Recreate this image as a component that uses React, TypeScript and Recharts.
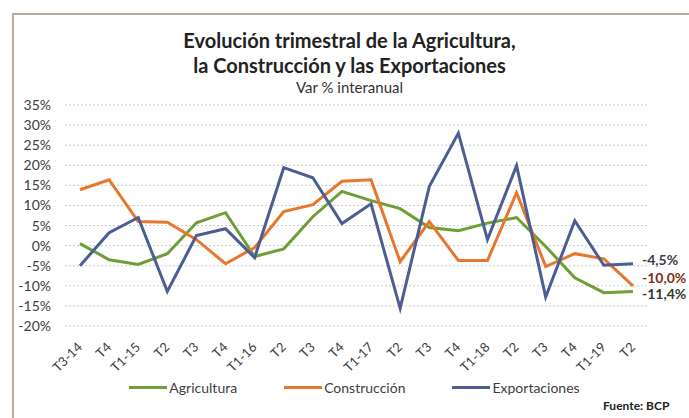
import { LineChart, Line, XAxis, YAxis, CartesianGrid, LabelList } from 'recharts';

const categories = ['T3-14', 'T4', 'T1-15', 'T2', 'T3', 'T4', 'T1-16', 'T2', 'T3', 'T4', 'T1-17', 'T2', 'T3', 'T4', 'T1-18', 'T2', 'T3', 'T4', 'T1-19', 'T2'];
const agricultura = [0.5, -3.5, -4.7, -2, 5.7, 8.2, -2.7, -0.8, 7.2, 13.5, 11.2, 9.2, 4.5, 3.7, 5.6, 7, -0.2, -8, -11.7, -11.4];
const construccion = [13.9, 16.4, 6, 5.8, 1.5, -4.5, -0.5, 8.5, 10.2, 16, 16.4, -4, 6, -3.7, -3.7, 13.2, -5.2, -2, -3.3, -10];
const exportaciones = [-5, 3.2, 7, -11.4, 2.5, 4.2, -3, 19.4, 16.9, 5.5, 10.4, -15.6, 14.7, 28, 1.5, 19.9, -12.8, 6.2, -4.9, -4.5];
const yTicks = [-20, -15, -10, -5, 0, 5, 10, 15, 20, 25, 30, 35];

const series = [
    { key: 'agr', name: 'Agricultura', color: '#6f9e37', label: '-11,4%', labelColor: '#2e3a2a', dy: 4 },
    { key: 'con', name: 'Construcción', color: '#e8772e', label: '-10,0%', labelColor: '#7c2f14', dy: -6 },
    { key: 'exp', name: 'Exportaciones', color: '#4b5d92', label: '-4,5%', labelColor: '#383d4a', dy: -2 },
];

const data = categories.map((q, i) => ({
    q,
    agr: agricultura[i],
    con: construccion[i],
    exp: exportaciones[i],
}));

const FONT = 'Lato, "Open Sans", sans-serif';

const XTick = ({ x, y, payload }: any) => (
    <g transform={`translate(${x + 3},${y + 14})`}>
        <text transform="rotate(-45)" textAnchor="end" fontSize={13} fill="#404040" fontFamily={FONT}>
            {payload.value}
        </text>
    </g>
);

// only the last point gets a value label
const endLabel = (text: string, color: string, dy: number) => (props: any) => {
    const { x, y, index } = props;
    if (index !== categories.length - 1) return null;
    return (
        <text x={x + 9} y={y + dy} dominantBaseline="middle" fontSize={14} fontWeight={700} fill={color} fontFamily={FONT}>
            {text}
        </text>
    );
};

export default function App() {
    return (
        <div style={{ position: 'absolute', left: 0, top: 0, width: 689, height: 418, background: '#fff', fontFamily: FONT, overflow: 'hidden' }}>
            {/* frame */}
            <div style={{ position: 'absolute', left: 12, top: 13, width: 700, height: 420, borderTop: '2px solid #b8aa9c', borderLeft: '2px solid #b8aa9c' }} />

            {/* title */}
            <div style={{ position: 'absolute', left: 0, width: 689, top: 28, textAlign: 'center', paddingLeft: 10, boxSizing: 'border-box', color: '#222' }}>
                <div style={{ fontSize: 20, fontWeight: 700, lineHeight: '25px' }}>Evolución trimestral de la Agricultura,</div>
                <div style={{ fontSize: 20, fontWeight: 700, lineHeight: '25px' }}>la Construcción y las Exportaciones</div>
                <div style={{ fontSize: 15, lineHeight: '18px', color: '#333' }}>Var % interanual</div>
            </div>

            <div style={{ position: 'absolute', left: 0, top: 0 }}>
                <LineChart width={689} height={418} data={data} margin={{ top: 105, right: 42, bottom: 0, left: 0 }}>
                    <CartesianGrid vertical={false} stroke="#c9c9c9" strokeDasharray="2 2" />
                    <XAxis
                        dataKey="q"
                        interval={0}
                        axisLine={false}
                        tickLine={false}
                        height={92}
                        padding={{ left: 15, right: 14 }}
                        tick={<XTick />}
                    />
                    <YAxis
                        domain={[-20, 35]}
                        ticks={yTicks}
                        interval={0}
                        width={65}
                        axisLine={false}
                        tickLine={false}
                        tickMargin={8}
                        tickFormatter={(v) => `${v}%`}
                        tick={{ fill: '#404040', fontSize: 14, fontFamily: FONT }}
                    />
                    {series.map((s) => (
                        <Line
                            key={s.key}
                            dataKey={s.key}
                            name={s.name}
                            type="linear"
                            stroke={s.color}
                            strokeWidth={3}
                            dot={false}
                            isAnimationActive={false}
                        >
                            <LabelList dataKey={s.key} content={endLabel(s.label, s.labelColor, s.dy)} />
                        </Line>
                    ))}
                </LineChart>
            </div>

            {/* legend */}
            <div style={{ position: 'absolute', left: 0, width: 689, top: 379, display: 'flex', justifyContent: 'center', gap: 47, paddingLeft: 20, boxSizing: 'border-box' }}>
                {series.map((s) => (
                    <div key={s.key} style={{ display: 'flex', alignItems: 'center' }}>
                        <div style={{ width: 38, height: 3, background: s.color }} />
                        <span style={{ fontSize: 14, color: '#404040', marginLeft: 2 }}>{s.name}</span>
                    </div>
                ))}
            </div>

            <div style={{ position: 'absolute', left: 603, top: 398, fontSize: 12, fontWeight: 700, color: '#222' }}>Fuente: BCP</div>
        </div>
    );
}
